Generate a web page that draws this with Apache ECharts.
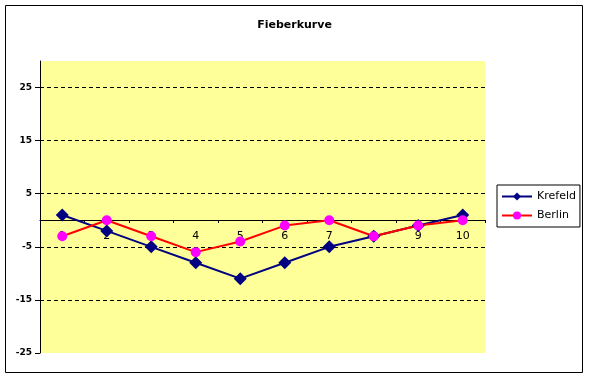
<!DOCTYPE html>
<html>
<head>
<meta charset="utf-8">
<script src="https://cdn.jsdelivr.net/npm/echarts@6/dist/echarts.min.js"></script>
<style>
  html, body { margin: 0; padding: 0; background: #fff; }
  #chart { width: 589px; height: 378px; }
</style>
</head>
<body>
<div id="chart"></div>
<script>
// Daten aus dem Diagramm
const categories = ["1", "2", "3", "4", "5", "6", "7", "8", "9", "10"];
const krefeld = [1, -2, -5, -8, -11, -8, -5, -3, -1, 1];
const berlin = [-3, 0, -3, -6, -4, -1, 0, -3, -1, 0];

const chart = echarts.init(document.getElementById("chart"));

const option = {
  animation: false,
  backgroundColor: "#fff",
  title: {
    text: "Fieberkurve",
    left: "center",
    top: 15,
    textStyle: {
      fontFamily: "DejaVu Sans",
      fontSize: 11,
      fontWeight: "bold",
      color: "#000",
    },
  },
  graphic: [
    {
      type: "rect",
      shape: { x: 5.5, y: 5.5, width: 577, height: 367 },
      style: { fill: null, stroke: "#000", lineWidth: 1 },
      silent: true,
    },
  ],
  legend: {
    orient: "vertical",
    left: 497,
    top: 185,
    padding: [6, 4, 6, 4],
    itemGap: 8,
    itemWidth: 30,
    itemHeight: 10,
    borderColor: "#000",
    borderWidth: 1,
    textStyle: {
      fontFamily: "DejaVu Sans",
      fontSize: 11,
      color: "#000",
    },
    data: ["Krefeld", "Berlin"],
  },
  grid: {
    left: 40,
    right: 104,
    top: 61,
    bottom: 25,
    show: true,
    backgroundColor: "#FFFF99",
    borderWidth: 0,
  },
  xAxis: {
    type: "category",
    data: categories,
    boundaryGap: true,
    // Achse liegt bei y = 0 (Abstand vom unteren Rand)
    offset: -133,
    axisLine: { onZero: false, lineStyle: { color: "#000", width: 1 } },
    axisTick: { show: true, length: 3, interval: 0, lineStyle: { color: "#000" } },
    axisLabel: {
      margin: 11,
      fontFamily: "DejaVu Sans",
      fontSize: 11,
      color: "#000",
    },
    splitLine: { show: false },
  },
  yAxis: {
    type: "value",
    min: -25,
    max: 30,
    interval: 10,
    axisLine: { show: true, onZero: false, lineStyle: { color: "#000", width: 1 } },
    axisTick: { show: true, length: 5, lineStyle: { color: "#000" } },
    axisLabel: {
      showMaxLabel: false,
      margin: 8,
      fontFamily: "DejaVu Sans",
      fontSize: 9,
      fontWeight: "bold",
      color: "#000",
    },
    splitLine: {
      show: true,
      showMinLine: false,
      showMaxLine: false,
      lineStyle: { color: "#000", type: [4, 3], width: 1 },
    },
  },
  series: [
    {
      name: "Krefeld",
      type: "line",
      data: krefeld,
      symbol: "diamond",
      symbolSize: 13,
      lineStyle: { color: "#000080", width: 2 },
      itemStyle: { color: "#000080" },
    },
    {
      name: "Berlin",
      type: "line",
      data: berlin,
      symbol: "circle",
      symbolSize: 10,
      lineStyle: { color: "#FF0000", width: 2 },
      itemStyle: { color: "#FF00FF" },
    },
  ],
};

chart.setOption(option);
</script>
</body>
</html>
